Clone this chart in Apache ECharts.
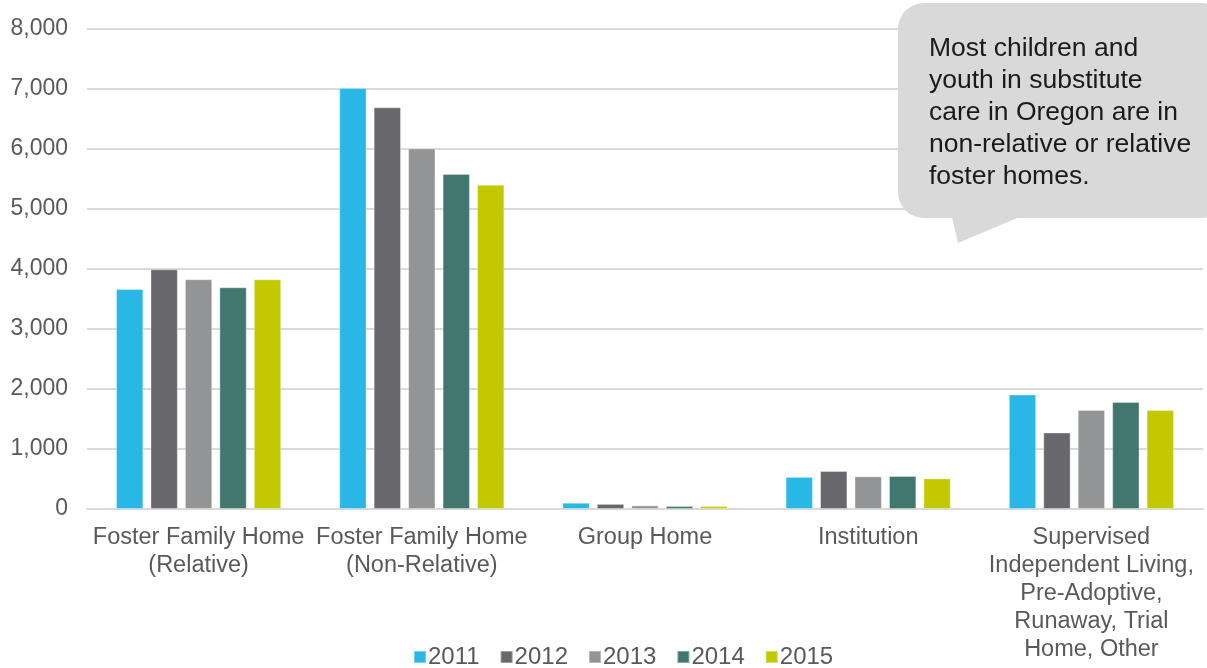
<!DOCTYPE html>
<html>
<head>
<meta charset="utf-8">
<script src="https://cdn.jsdelivr.net/npm/echarts@6/dist/echarts.min.js"></script>
<style>
  html, body { margin: 0; padding: 0; background: #fff; }
  #chart { width: 1207px; height: 668px; }
</style>
</head>
<body>
<div id="chart"></div>
<script>
// datos
const categories = [
    "Foster Family Home\n(Relative)",
    "Foster Family Home\n(Non-Relative)",
    "Group Home",
    "Institution",
    "Supervised\nIndependent Living,\nPre-Adoptive,\nRunaway, Trial\nHome, Other"
];
const years = ["2011", "2012", "2013", "2014", "2015"];
const v2011 = [3665, 7015, 105, 535, 1910];
const v2012 = [3995, 6695, 85, 635, 1275];
const v2013 = [3830, 6010, 60, 545, 1650];
const v2014 = [3695, 5585, 50, 550, 1785];
const v2015 = [3830, 5405, 50, 510, 1650];
const colors = ["#29b8e5", "#68676c", "#939496", "#41776e", "#c2c900"];
const calloutLines = [
    "Most children and",
    "youth in substitute",
    "care in Oregon are in",
    "non-relative or relative",
    "foster homes."
];

const font = "'Liberation Sans', Arial, Helvetica, sans-serif";
const seriesData = [v2011, v2012, v2013, v2014, v2015];

const chart = echarts.init(document.getElementById("chart"));

chart.setOption({
    animation: false,
    textStyle: { fontFamily: font },
    grid: { left: 87, right: 4, top: 29, bottom: 159, containLabel: false },
    legend: {
        bottom: -6,
        left: 408,
        itemWidth: 12,
        itemHeight: 12,
        itemGap: 20,
        icon: "rect",
        textStyle: { fontSize: 24, color: "#595959", fontFamily: font, padding: [0, 0, 0, -3] },
        data: years
    },
    xAxis: {
        type: "category",
        data: categories,
        axisLine: { lineStyle: { color: "#d9d9d9", width: 2 } },
        axisTick: { show: false },
        axisLabel: {
            interval: 0,
            fontSize: 23.5,
            lineHeight: 28,
            color: "#595959",
            margin: 15
        }
    },
    yAxis: {
        type: "value",
        min: 0,
        max: 8000,
        interval: 1000,
        axisLine: { show: false },
        axisTick: { show: false },
        splitLine: { lineStyle: { color: "#d9d9d9", width: 2 } },
        axisLabel: {
            fontSize: 23,
            color: "#595959",
            margin: 19,
            padding: [4, 0, 0, 0],
            formatter: v => v.toLocaleString("en-US")
        }
    },
    series: years.map((y, i) => ({
        name: y,
        type: "bar",
        data: seriesData[i],
        barGap: "26%",
        barCategoryGap: "26%",
        itemStyle: {
            color: colors[i],
            borderColor: "rgba(255,255,255,0.35)",
            borderWidth: 1
        }
    })),
    graphic: [
        {
            type: "group",
            left: 898,
            top: 3,
            z: 100,
            children: [
                {
                    type: "polygon",
                    z: 100,
                    shape: { points: [[53, 210], [60, 240], [131, 210]] },
                    style: { fill: "#d9d9d9" }
                },
                {
                    type: "rect",
                    z: 100,
                    shape: { x: 0, y: 0, width: 330, height: 215, r: 26 },
                    style: { fill: "#d9d9d9" }
                },
                {
                    type: "text",
                    z: 101,
                    x: 31,
                    y: 30,
                    style: {
                        text: calloutLines.join("\n"),
                        font: "26.5px " + font,
                        lineHeight: 32,
                        fill: "#1a1a1a"
                    }
                }
            ]
        }
    ]
});
</script>
</body>
</html>
